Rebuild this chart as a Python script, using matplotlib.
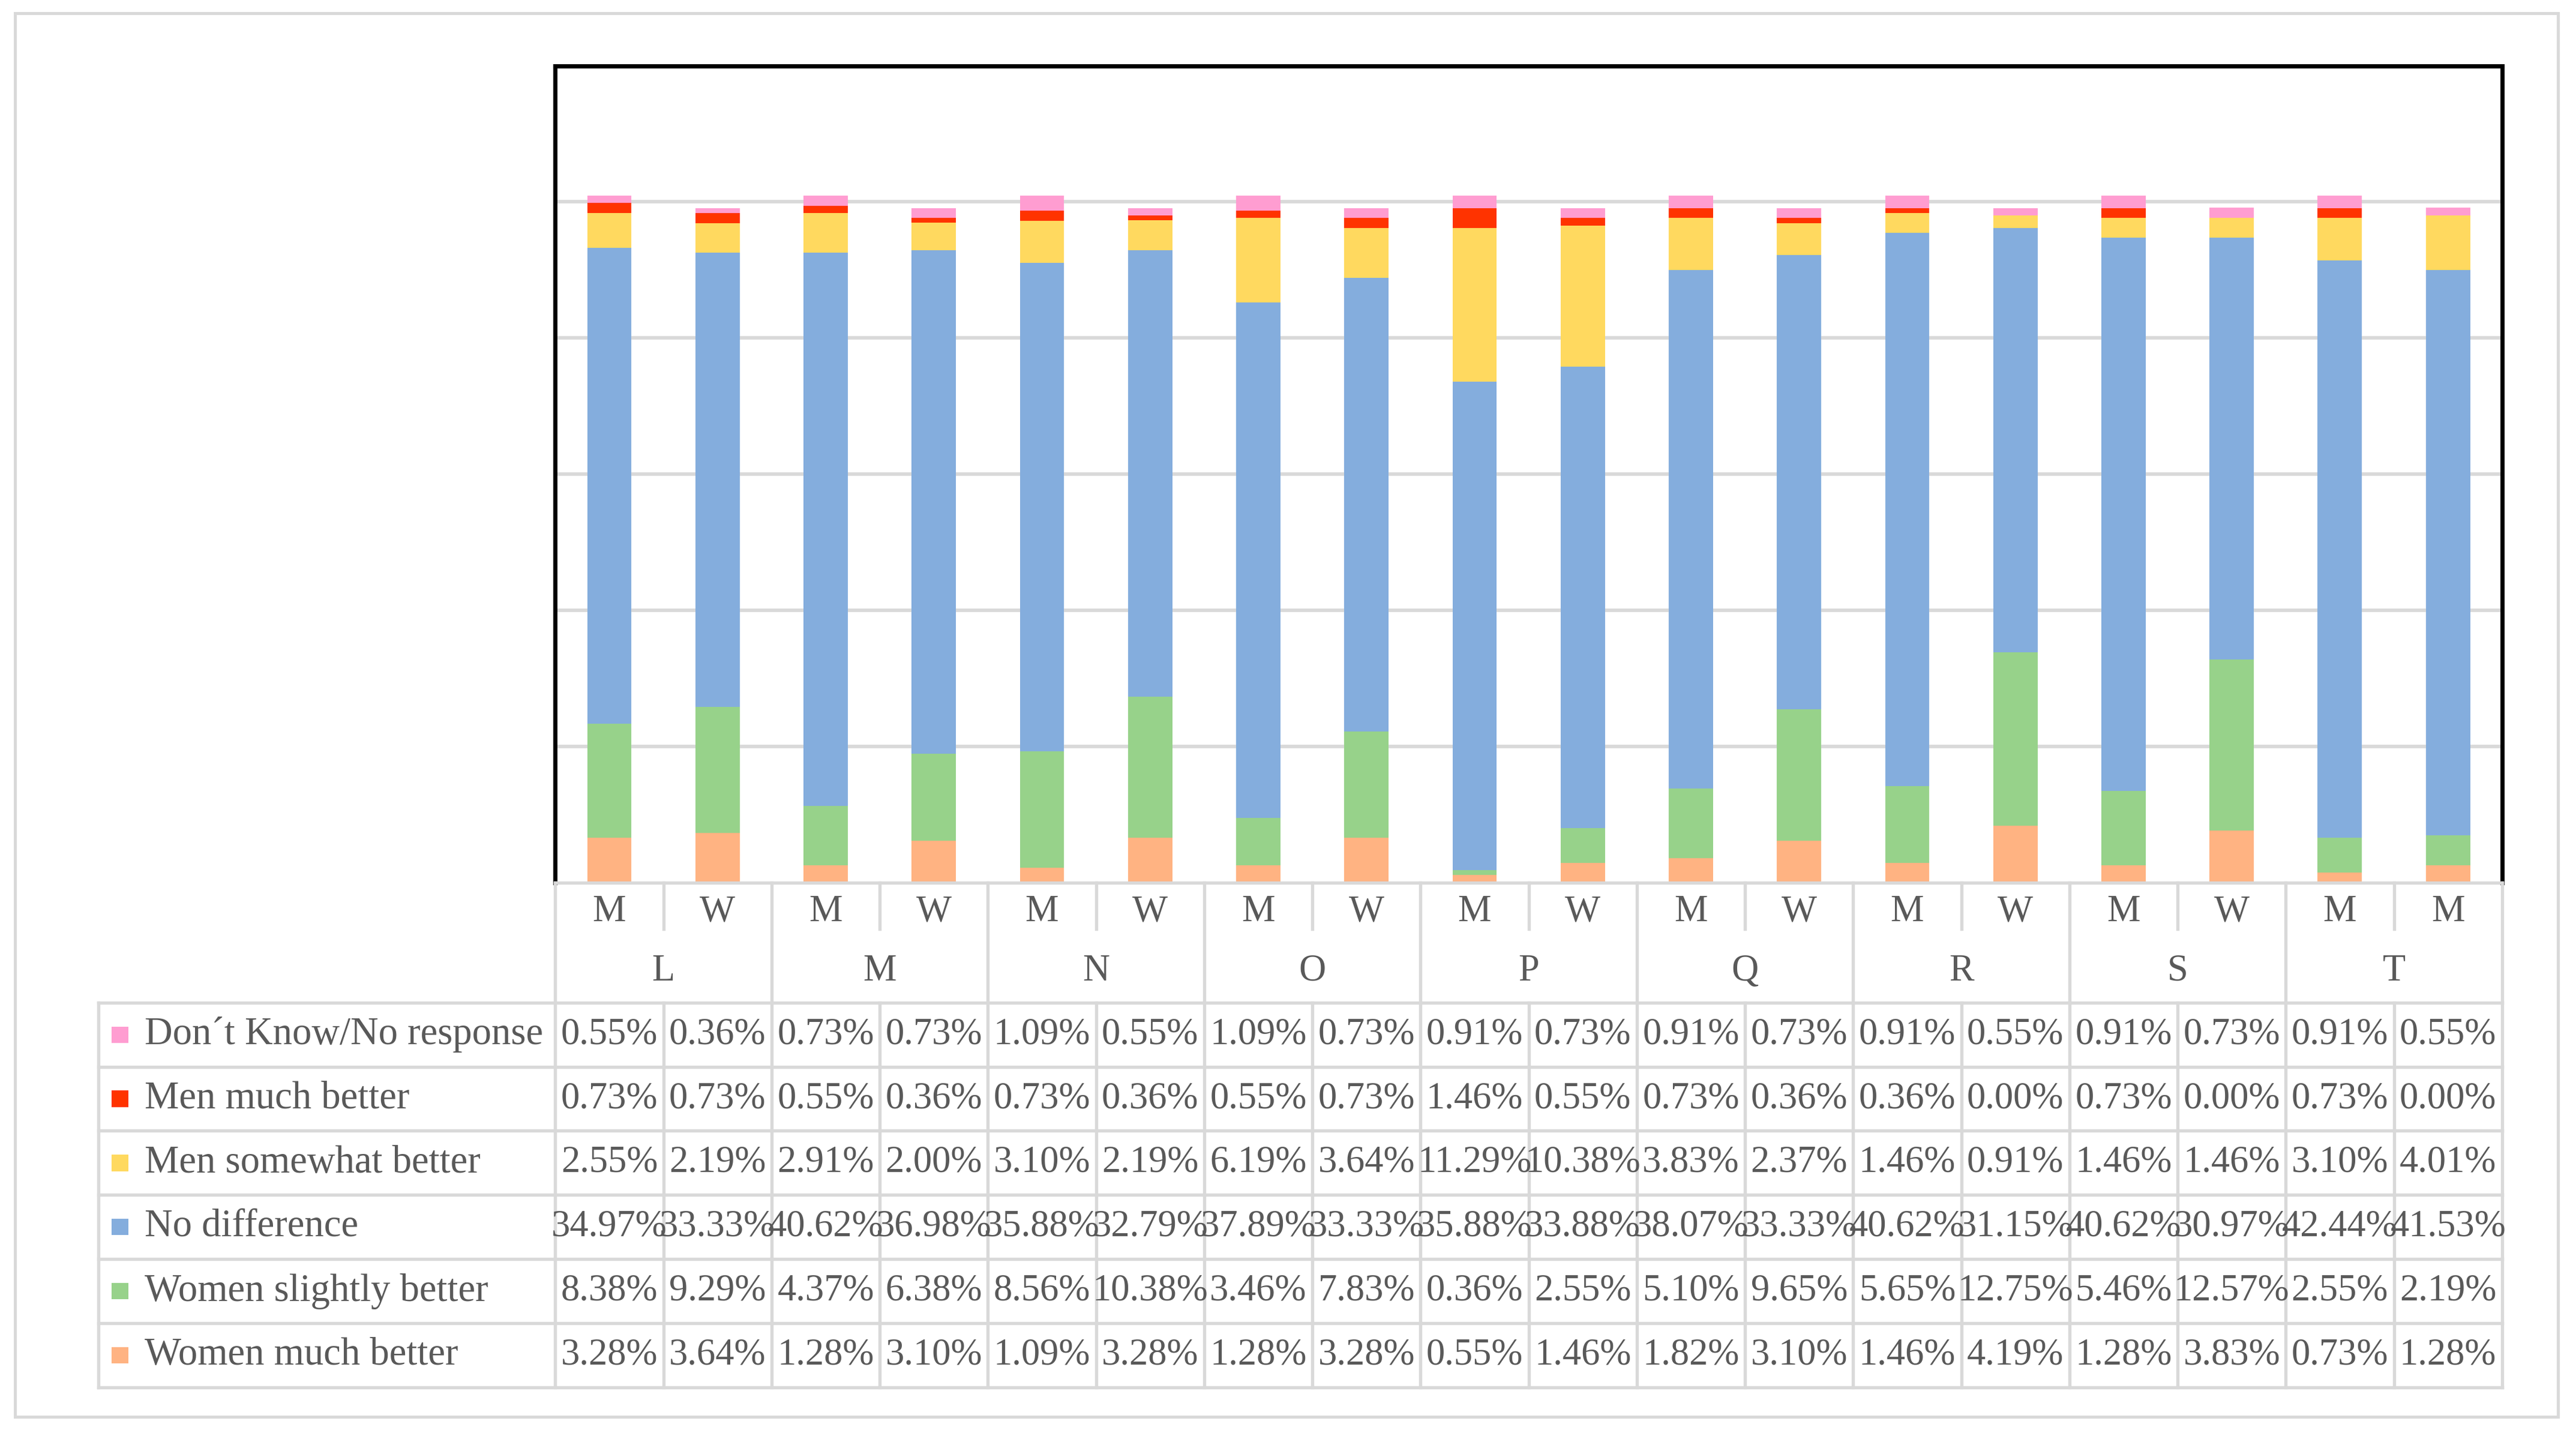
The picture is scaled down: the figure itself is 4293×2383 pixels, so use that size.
import matplotlib
matplotlib.use("Agg")
import matplotlib.pyplot as plt
from matplotlib.patches import Rectangle

plt.rcParams["font.family"] = ["Liberation Serif", "DejaVu Serif"]

# --- data -------------------------------------------------------------
groups = ["L", "M", "N", "O", "P", "Q", "R", "S", "T"]
sexes = ["M", "W", "M", "W", "M", "W", "M", "W", "M", "W",
         "M", "W", "M", "W", "M", "W", "M", "M"]

series_names = ["Don\u00b4t Know/No response", "Men much better", "Men somewhat better",
                "No difference", "Women slightly better", "Women much better"]
series_colors = ["#FF9DD1", "#FF3300", "#FFD95F", "#84ADDD", "#97D28A", "#FFB382"]

dont_know = [0.55, 0.36, 0.73, 0.73, 1.09, 0.55, 1.09, 0.73, 0.91,
             0.73, 0.91, 0.73, 0.91, 0.55, 0.91, 0.73, 0.91, 0.55]
men_much = [0.73, 0.73, 0.55, 0.36, 0.73, 0.36, 0.55, 0.73, 1.46,
            0.55, 0.73, 0.36, 0.36, 0.00, 0.73, 0.00, 0.73, 0.00]
men_somewhat = [2.55, 2.19, 2.91, 2.00, 3.10, 2.19, 6.19, 3.64, 11.29,
                10.38, 3.83, 2.37, 1.46, 0.91, 1.46, 1.46, 3.10, 4.01]
no_difference = [34.97, 33.33, 40.62, 36.98, 35.88, 32.79, 37.89, 33.33, 35.88,
                 33.88, 38.07, 33.33, 40.62, 31.15, 40.62, 30.97, 42.44, 41.53]
women_slightly = [8.38, 9.29, 4.37, 6.38, 8.56, 10.38, 3.46, 7.83, 0.36,
                  2.55, 5.10, 9.65, 5.65, 12.75, 5.46, 12.57, 2.55, 2.19]
women_much = [3.28, 3.64, 1.28, 3.10, 1.09, 3.28, 1.28, 3.28, 0.55,
              1.46, 1.82, 3.10, 1.46, 4.19, 1.28, 3.83, 0.73, 1.28]

# table order, top row first
rows = [dont_know, men_much, men_somewhat, no_difference, women_slightly, women_much]

# --- layout (in a 1568 x 870 reference grid) --------------------------
W, H = 1568, 870
AX_L, AX_R, AX_T, AX_B = 338, 1523, 40, 537
LEG_L = 60
CAT_MID, DIV_END, GRP_MID, DATA_T = 554, 565, 591, 610
ROW_H = 39
GRID = "#D9D9D9"
TXT = "#595959"
FS = 15

fig = plt.figure(figsize=(4293 / 300, 2383 / 300), dpi=300)

ax = fig.add_axes([AX_L / W, 1 - AX_B / H, (AX_R - AX_L) / W, (AX_B - AX_T) / H])
n = len(sexes)
xs = list(range(n))
bottom = [0.0] * n
for vals, color in zip(reversed(rows), reversed(series_colors)):
    ax.bar(xs, vals, 0.41, bottom=bottom, color=color, zorder=3)
    bottom = [b + v for b, v in zip(bottom, vals)]

ax.set_xlim(-0.5, n - 0.5)
ax.set_ylim(0, 60)
ax.set_yticks(range(10, 60, 10))
ax.yaxis.grid(True, color=GRID, lw=1.4, zorder=0)
ax.set_axisbelow(True)
ax.tick_params(left=False, bottom=False, labelleft=False, labelbottom=False)
for side in ["left", "top", "right"]:
    ax.spines[side].set_linewidth(1.7)
ax.spines["bottom"].set_visible(False)

# --- data table drawn underneath the bars -----------------------------
tab = fig.add_axes([0, 0, 1, 1])
tab.set_xlim(0, W)
tab.set_ylim(H, 0)
tab.set_axis_off()

col_w = (AX_R - AX_L) / n
edges = [AX_L + i * col_w for i in range(n + 1)]
data_b = DATA_T + ROW_H * len(rows)
lw = 1.3

tab.add_patch(Rectangle((9, 8), 1548, 854, fill=False, ec=GRID, lw=1.2))

tab.plot([AX_L, AX_R], [AX_B, AX_B], color=GRID, lw=lw)
for r in range(len(rows) + 1):
    yy = DATA_T + r * ROW_H
    tab.plot([LEG_L, AX_R], [yy, yy], color=GRID, lw=lw)
tab.plot([LEG_L, LEG_L], [DATA_T, data_b], color=GRID, lw=lw)
for i, ex in enumerate(edges):
    if i % 2 == 0:
        tab.plot([ex, ex], [AX_B, data_b], color=GRID, lw=lw)
    else:
        tab.plot([ex, ex], [AX_B, DIV_END], color=GRID, lw=lw)
        tab.plot([ex, ex], [DATA_T, data_b], color=GRID, lw=lw)

for i, s in enumerate(sexes):
    tab.text((edges[i] + edges[i + 1]) / 2, CAT_MID + 1, s, ha="center", va="center",
             fontsize=FS, color=TXT)
for g, name in enumerate(groups):
    tab.text(edges[2 * g + 1], GRP_MID, name, ha="center", va="center",
             fontsize=FS, color=TXT)

for r, (name, color, vals) in enumerate(zip(series_names, series_colors, rows)):
    yc = DATA_T + (r + 0.5) * ROW_H
    tab.add_patch(Rectangle((68, yc - 5), 10, 10, color=color, lw=0))
    tab.text(88, yc, name, ha="left", va="center", fontsize=FS + 0.5, color=TXT)
    for i, v in enumerate(vals):
        tab.text((edges[i] + edges[i + 1]) / 2, yc, f"{v:.2f}%", ha="center",
                 va="center", fontsize=FS, color=TXT)

fig.savefig("out.png", dpi=300)
